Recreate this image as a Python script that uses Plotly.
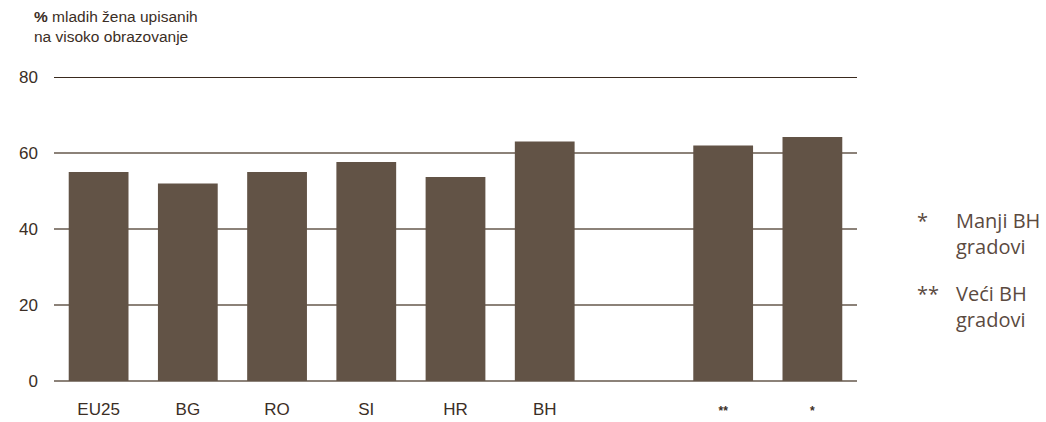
import plotly.graph_objects as go

# Share of young women enrolled in higher education
categories = ["EU25", "BG", "RO", "SI", "HR", "BH", " ", "**", "*"]
values = [55, 52, 55, 57.6, 53.7, 63, None, 62, 64.2]
tick_labels = ["EU25", "BG", "RO", "SI", "HR", "BH", "",
               "<b><span style='font-size:12px'>**</span></b>",
               "<b><span style='font-size:12px'>*</span></b>"]
y_ticks = [0, 20, 40, 60, 80]

bar_color = "#625346"
grid_color = "#8c8279"
text_color = "#3b2e25"
note_color = "#5b4a3f"

fig = go.Figure(go.Bar(
    x=categories, y=values, marker_color=bar_color, marker_line_width=0,
    hoverinfo="x+y",
))

fig.update_layout(
    width=1046, height=422,
    margin=dict(l=54, r=189, t=77, b=41),
    paper_bgcolor="white", plot_bgcolor="white",
    bargap=0.33, showlegend=False,
    font=dict(family="Liberation Sans, Arial, sans-serif", size=17, color=text_color),
)
fig.update_xaxes(
    type="category", tickvals=categories, ticktext=tick_labels,
    showgrid=False, showline=False, zeroline=False, automargin=False,
    ticks="", ticklabelstandoff=16,
)
fig.update_yaxes(
    range=[0, 80], tickvals=y_ticks, showgrid=True, gridcolor=grid_color,
    gridwidth=1.5, zeroline=True, zerolinecolor=grid_color, zerolinewidth=1.5,
    showline=False, ticks="", ticklabelstandoff=15, automargin=False,
    layer="below traces",
)

# darker top rule at 80
fig.add_shape(type="line", xref="paper", yref="y", x0=0, x1=1, y0=80, y1=80,
              line=dict(color="#3a2a1e", width=2))

# axis title
fig.add_annotation(
    xref="paper", yref="paper", x=-0.027, y=1.0, yshift=71, xanchor="left", yanchor="top",
    align="left", showarrow=False,
    text="<b>%</b> mladih žena upisanih<br>na visoko obrazovanje",
    font=dict(size=15.5, color=text_color),
)

# footnotes explaining the asterisks
note_font = dict(family="Open Sans, Noto Sans, sans-serif", size=20, color=note_color)
notes = [("*", "Manji BH<br>gradovi", 38.8), ("**", "Veći BH<br>gradovi", 19.5)]
for mark, label, yv in notes:
    fig.add_annotation(xref="paper", yref="y", x=1.0, xshift=58, y=yv, xanchor="left",
                       yanchor="middle", showarrow=False, text=mark + "<br>&nbsp;",
                       align="left", font=note_font)
    fig.add_annotation(xref="paper", yref="y", x=1.0, xshift=97, y=yv, xanchor="left",
                       yanchor="middle", showarrow=False, text=label, align="left",
                       font=note_font)

fig.write_html("out.html")
